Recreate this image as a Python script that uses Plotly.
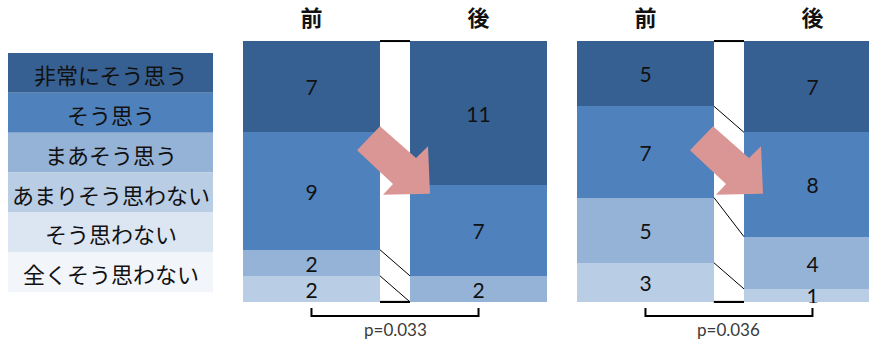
import numpy as np
import plotly.graph_objects as go

# ---------------- data ----------------
categories = ["全くそう思わない", "そう思わない", "あまりそう思わない", "まあそう思う", "そう思う", "非常にそう思う"]  # bottom -> top
colors = ["#F2F5FA", "#DCE6F2", "#B9CDE5", "#95B3D7", "#4F81BD", "#376092"]
periods = ["前", "後"]

g1_before = [0, 0, 2, 2, 9, 7]
g1_after = [0, 0, 0, 2, 7, 11]
g2_before = [0, 0, 3, 5, 7, 5]
g2_after = [0, 0, 1, 4, 8, 7]
p_values = ["p=0.033", "p=0.036"]

groups = [(g1_before, g1_after), (g2_before, g2_after)]

# ---------------- layout geometry ----------------
W, H = 869, 340
TOP, BOT = 38, 303
BAR_W = 0.82


def X(px):
    return px / W


def Y(py):
    return (BOT - py) / (BOT - TOP)


fig = go.Figure()
axes = [("x", "y"), ("x2", "y2")]

for gi, (before, after) in enumerate(groups):
    xa, ya = axes[gi]
    tb, ta = sum(before), sum(after)
    for ci, cat in enumerate(categories):
        vals = [before[ci], after[ci]]
        fr = [before[ci] / tb, after[ci] / ta]
        fig.add_trace(go.Bar(
            x=[0, 1], y=fr, width=BAR_W, xaxis=xa, yaxis=ya,
            marker=dict(color=colors[ci], line=dict(width=0)),
            text=[str(v) if v else "" for v in vals],
            textposition="inside", insidetextanchor="middle", textangle=0,
            textfont=dict(family="Lato, Noto Sans CJK JP", size=21, color="#111111"),
            showlegend=False, name=cat, hoverinfo="skip",
        ))
    # series lines across the gap
    cb = np.cumsum(before) / tb
    ca = np.cumsum(after) / ta
    lines = [(0.0, 0.0)] + list(zip(cb, ca))
    for yb, yf in lines:
        edge = (yb == yf) and (yb in (0.0, 1.0))
        fig.add_trace(go.Scatter(
            x=[BAR_W / 2, 1 - BAR_W / 2], y=[yb, yf], xaxis=xa, yaxis=ya,
            mode="lines", line=dict(color="#000000", width=2 if edge else 1),
            showlegend=False, hoverinfo="skip",
        ))
    # bracket and p-value
    xr = "x" if gi == 0 else "x2"
    fig.add_shape(type="path", xref=xr, yref="paper",
                  path=f"M 0 {Y(308)} L 0 {Y(316)} L 1 {Y(316)} L 1 {Y(308)}",
                  line=dict(color="#000000", width=2))
    fig.add_annotation(x=0.5, xref=xr, y=Y(330), yref="paper", text=p_values[gi],
                       xanchor="center", yanchor="middle",
                       showarrow=False, font=dict(family="Lato, Noto Sans CJK JP", size=17, color="#3a3a3a"))

# arrows (decorative)
arrow_rel = [(-73, -44), (-50, -68), (-14, -36), (-2, -48), (0, 0), (-47, 1), (-37, -10)]
for tx, ty in [(430, 193), (763, 193)]:
    pts = [(X(tx + dx), Y(ty + dy)) for dx, dy in arrow_rel]
    path = "M " + " L ".join(f"{a} {b}" for a, b in pts) + " Z"
    fig.add_shape(type="path", xref="paper", yref="paper", path=path,
                  fillcolor="#D99694", line=dict(width=0), layer="above")

# legend boxes
LX0, LX1, LY0, ROW = 8, 213, 51, 40.2
for i, ci in enumerate(reversed(range(len(categories)))):
    y0 = LY0 + i * ROW
    fig.add_shape(type="rect", xref="paper", yref="paper",
                  x0=X(LX0), x1=X(LX1), y0=Y(y0), y1=Y(y0 + ROW),
                  fillcolor=colors[ci], line=dict(width=0))
    fig.add_annotation(x=X((LX0 + LX1) / 2 + 0.5), y=Y(y0 + ROW / 2 + 1), xref="paper", yref="paper",
                       xanchor="center", yanchor="middle",
                       text=categories[ci], showarrow=False,
                       font=dict(family="Noto Sans CJK JP", size=22, color="#111111"))

common_x = dict(side="top", tickvals=[0, 1], ticktext=periods, showgrid=False, zeroline=False,
                showline=False, ticks="outside", ticklen=4, tickcolor="rgba(0,0,0,0)",
                tickfont=dict(family="Noto Sans CJK JP", size=22, color="#111111", weight="bold"),
                fixedrange=True)
common_y = dict(range=[-0.004, 1.004], visible=False, showgrid=False, zeroline=False, fixedrange=True)

fig.update_layout(
    width=W, height=H,
    margin=dict(l=0, r=0, t=TOP, b=H - BOT),
    paper_bgcolor="white", plot_bgcolor="rgba(0,0,0,0)",
    barmode="stack", bargap=0,
    uniformtext=dict(minsize=21, mode="show"),
    xaxis=dict(domain=[X(243), X(547)], range=[-0.41, 1.41], anchor="y", **common_x),
    yaxis=dict(domain=[0, 1], anchor="x", **common_y),
    xaxis2=dict(domain=[X(577), 1.0], range=[-0.41, 1.3385], anchor="y2", **common_x),
    yaxis2=dict(domain=[0, 1], anchor="x2", **common_y),
)

fig.write_html("out.html")
